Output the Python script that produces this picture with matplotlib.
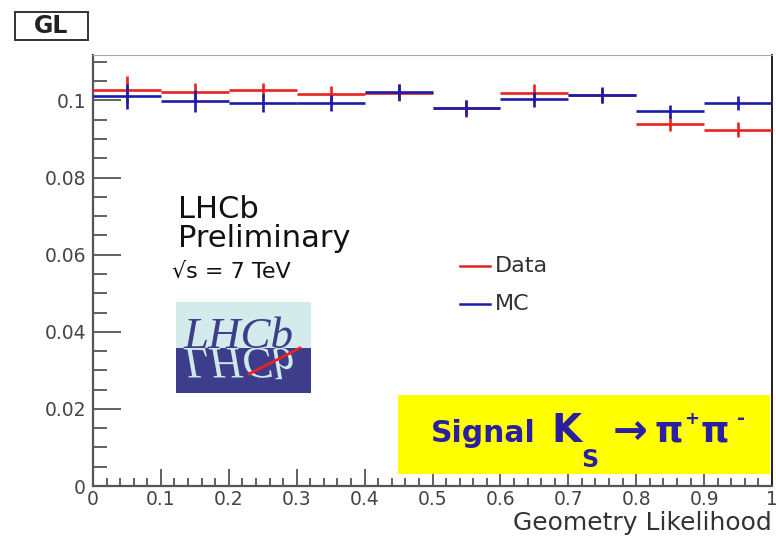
import matplotlib
matplotlib.use("Agg")
import matplotlib.pyplot as plt
from matplotlib.patches import Rectangle, PathPatch
from matplotlib.lines import Line2D
from matplotlib.textpath import TextPath
from matplotlib.font_manager import FontProperties
from matplotlib.transforms import Affine2D
from matplotlib.ticker import MultipleLocator, FormatStrFormatter
import numpy as np

# GL response, Ks -> pi+ pi- signal, 10 bins in [0, 1]
bin_edges = [0.0, 0.1, 0.2, 0.3, 0.4, 0.5, 0.6, 0.7, 0.8, 0.9, 1.0]
data_vals = [0.1028, 0.1023, 0.1026, 0.1016, 0.1020, 0.0980, 0.1020, 0.1013, 0.0940, 0.0924]
data_errs = [0.0035, 0.0022, 0.0020, 0.0022, 0.0022, 0.0022, 0.0023, 0.0020, 0.0020, 0.0019]
mc_vals = [0.1011, 0.0998, 0.0993, 0.0993, 0.1022, 0.0981, 0.1003, 0.1014, 0.0972, 0.0994]
mc_errs = [0.0032, 0.0028, 0.0023, 0.0020, 0.0020, 0.0020, 0.0019, 0.0020, 0.0017, 0.0018]

RED = '#e8221e'
BLUE = '#1c1ca8'
NAVY = '#2a1fa0'
GRAY = '#444444'

plt.rcParams['font.family'] = ['DejaVu Sans']

W, H = 776, 536
fig = plt.figure(figsize=(W / 100, H / 100), dpi=100)
ax = fig.add_axes([93 / W, 1 - 486 / H, (772 - 93) / W, (486 - 55) / H])

edges = np.array(bin_edges)
centers = 0.5 * (edges[:-1] + edges[1:])
half = 0.5 * np.diff(edges)

ax.errorbar(centers, data_vals, xerr=half, yerr=data_errs, fmt='none',
            ecolor=RED, elinewidth=1.9, capsize=0, zorder=3)
ax.errorbar(centers, mc_vals, xerr=half, yerr=mc_errs, fmt='none',
            ecolor=BLUE, elinewidth=1.9, capsize=0, zorder=4)

ax.set_xlim(0, 1)
ax.set_ylim(0, 0.1118)
ax.xaxis.set_major_locator(MultipleLocator(0.1))
ax.xaxis.set_minor_locator(MultipleLocator(0.02))
ax.yaxis.set_major_locator(MultipleLocator(0.02))
ax.yaxis.set_minor_locator(MultipleLocator(0.005))
ax.xaxis.set_major_formatter(FormatStrFormatter('%g'))
ax.yaxis.set_major_formatter(FormatStrFormatter('%g'))

ax.tick_params(axis='both', which='both', direction='in', colors='#555555',
               labelcolor=GRAY, labelsize=13.5, top=False, right=False)
ax.tick_params(axis='y', which='major', length=20, width=1.3, pad=5)
ax.tick_params(axis='y', which='minor', length=10, width=1.3)
ax.tick_params(axis='x', which='major', length=12, width=1.3, pad=3)
ax.tick_params(axis='x', which='minor', length=6, width=1.3)

for side in ['left', 'bottom']:
    ax.spines[side].set_color('#555555')
    ax.spines[side].set_linewidth(1.6)
ax.spines['right'].set_color('#222222')
ax.spines['right'].set_linewidth(1.4)
ax.spines['top'].set_color('#aaaaaa')
ax.spines['top'].set_linewidth(0.8)

ax.set_xlabel('Geometry Likelihood', loc='right', fontsize=18, color='#333333', labelpad=1)

# overlay in figure pixels (y up) for the annotations
ov = fig.add_axes([0, 0, 1, 1], zorder=5)
ov.set_xlim(0, W)
ov.set_ylim(0, H)
ov.axis('off')
ov.patch.set_alpha(0)

# histogram name box
ov.add_patch(Rectangle((15, H - 40), 73, 28, facecolor='white',
                       edgecolor='#333333', linewidth=1.4))
ov.text(51, H - 26, 'GL', fontsize=17, fontweight='bold', color='#222222',
        ha='center', va='center')

# LHCb preliminary label
ov.text(178, H - 218, 'LHCb', fontsize=22, color='#111111', va='baseline')
ov.text(178, H - 247, 'Preliminary', fontsize=22, color='#111111', va='baseline')
ov.text(172, H - 278, '√s = 7 TeV', fontsize=16, color='#111111', va='baseline')

# LHCb logo
logo_l, logo_r, logo_t, logo_b, logo_mid = 176, 311, 302, 393, 348
ov.add_patch(Rectangle((logo_l, H - logo_mid), logo_r - logo_l, logo_mid - logo_t,
                       facecolor='#d3ebea', edgecolor='none'))
lower = Rectangle((logo_l, H - logo_b), logo_r - logo_l, logo_b - logo_mid,
                  facecolor='#3d3d8b', edgecolor='none')
ov.add_patch(lower)
logo_font = FontProperties(family='Liberation Serif', style='italic')
logo_px = 45
ov.text(184, H - logo_mid, 'LHCb', fontproperties=logo_font, fontsize=logo_px * 72 / 100,
        color='#3d3d8b', va='baseline')
mirror = TextPath((0, 0), 'LHCb', size=logo_px, prop=logo_font)
mirror = Affine2D().scale(1, -1).translate(184, H - logo_mid).transform_path(mirror)
refl = PathPatch(mirror, facecolor='#cfe9e9', edgecolor='none')
ov.add_patch(refl)
refl.set_clip_path(lower)
ov.plot([249, 300], [H - 374, H - 348], color='#e8221e', linewidth=2)

# legend
ov.add_line(Line2D([460, 490], [H - 266, H - 266], color=RED, linewidth=1.8))
ov.add_line(Line2D([460, 490], [H - 304, H - 304], color=BLUE, linewidth=1.8))
ov.text(495, H - 266, 'Data', fontsize=16, color='#333333', va='center')
ov.text(495, H - 304, 'MC', fontsize=16, color='#333333', va='center')

# signal box
ov.add_patch(Rectangle((398, H - 474), 372, 79, facecolor='#ffff00', edgecolor='none'))
base = H - 442
ov.text(431, base, 'Signal', fontsize=21.5, fontweight='bold', color=NAVY, va='baseline')
ov.text(551, base, 'K', fontsize=28, fontweight='bold', color=NAVY, va='baseline')
ov.text(581, H - 467, 'S', fontsize=17, fontweight='bold', color=NAVY, va='baseline')
ov.text(630, H - 432, '→', fontsize=30, fontweight='bold', color=NAVY,
        ha='center', va='center')
ov.text(655, base, 'π', fontsize=26, fontweight='bold', color=NAVY, va='baseline')
ov.text(692, H - 419, '+', fontsize=13, fontweight='bold', color=NAVY,
        ha='center', va='center')
ov.text(701, base, 'π', fontsize=26, fontweight='bold', color=NAVY, va='baseline')
ov.text(741, H - 418, '-', fontsize=14, fontweight='bold', color=NAVY,
        ha='center', va='center')

fig.savefig('out.png', dpi=100)
